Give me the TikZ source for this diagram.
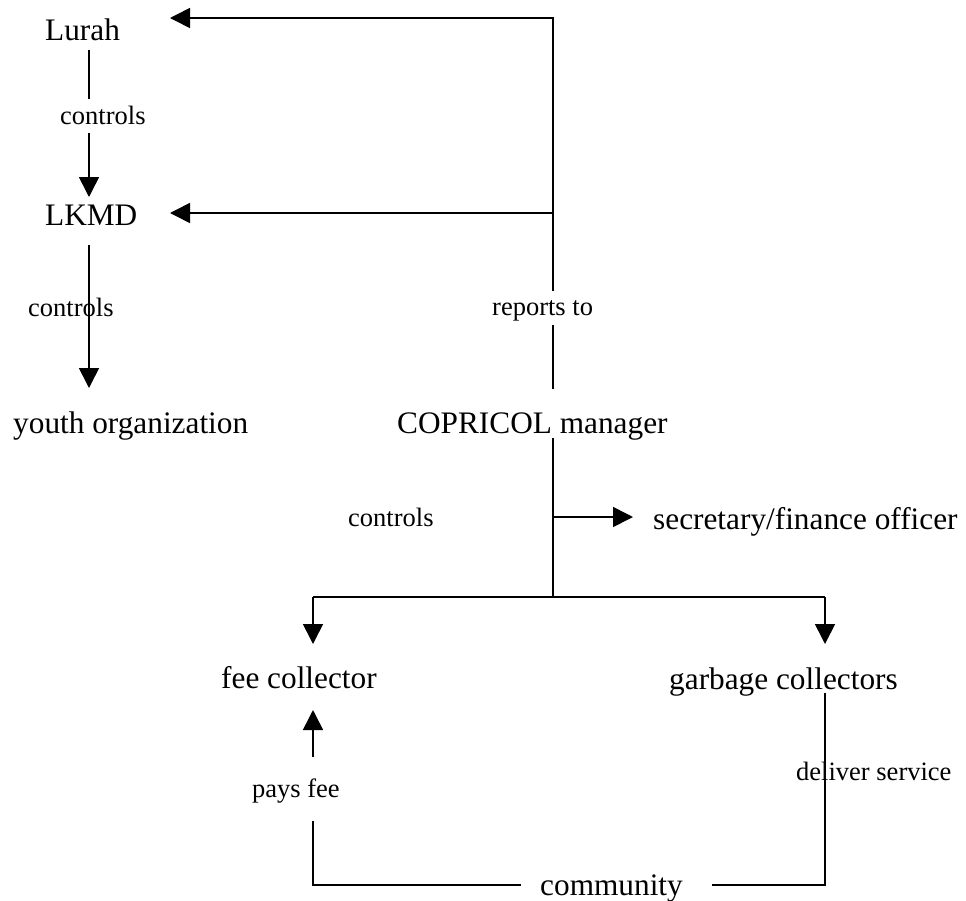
\documentclass[tikz,border=0pt]{standalone}
\usepackage{fontspec}
\setmainfont{Liberation Serif}
\usetikzlibrary{arrows.meta}
\begin{document}
\begin{tikzpicture}[x=1pt,y=-1pt,
  big/.style={anchor=base west,inner sep=0pt,font=\fontsize{31.3}{36}\selectfont},
  lbl/.style={anchor=base west,inner sep=0pt,font=\fontsize{26.5}{30}\selectfont},
  conn/.style={line width=1.6pt},
  arr/.style={conn,-{Triangle[length=20pt,width=20pt]}}]
\fill[white] (0,0) rectangle (966,900);
\useasboundingbox (0,0) rectangle (966,900);

% main nodes
\node[big] (lurah) at (45,40) {Lurah};
\node[big] (lkmd) at (45,225) {LKMD};
\node[big] (youth) at (13,433) {youth organization};
\node[big] (mgr) at (397,433) {COPRICOL manager};
\node[big] (sec) at (653,529) {secretary/finance officer};
\node[big] (fee) at (221,688) {fee collector};
\node[big] (garb) at (669,689) {garbage collectors};
\node[big] (comm) at (540,895) {community};

% labels
\node[lbl] (ctlA) at (60,124) {controls};
\node[lbl] (ctlB) at (28,316) {controls};
\node[lbl] (rep) at (492,315) {reports to};
\node[lbl] (ctlC) at (348,526) {controls};
\node[lbl] (pays) at (252,797) {pays fee};
\node[lbl] (deliv) at (796,780) {deliver service};

% connector points
\coordinate (mgrUp) at (553,389);
\coordinate (repLo) at (553,325);
\coordinate (repHi) at (553,291);
\coordinate (jTop) at (553,18);
\coordinate (jMid) at (553,213);
\coordinate (tipLurah) at (170,18);
\coordinate (tipLkmd) at (170,213);
\coordinate (lurahDown) at (89,50);
\coordinate (ctlAHi) at (89,99);
\coordinate (ctlALo) at (89,133);
\coordinate (tipLkmdIn) at (89,197);
\coordinate (lkmdDown) at (89,245);
\coordinate (tipYouth) at (89,388);
\coordinate (mgrDown) at (553,438);
\coordinate (jSec) at (553,517);
\coordinate (tipSec) at (633,517);
\coordinate (jBranch) at (553,597);
\coordinate (bL) at (313,597);
\coordinate (bR) at (825,597);
\coordinate (tipFee) at (313,644);
\coordinate (tipGarb) at (825,644);
\coordinate (payLo) at (313,821);
\coordinate (payHi) at (313,757);
\coordinate (tipFeeUp) at (313,710);
\coordinate (cornerL) at (313,885);
\coordinate (commL) at (521,885);
\coordinate (commR) at (712,885);
\coordinate (cornerR) at (825,885);
\coordinate (garbDown) at (825,693);

% manager reports to Lurah and LKMD
\draw[conn] (mgrUp) -- (repLo);
\draw[arr] (repHi) -- (jTop) -- (tipLurah);
\draw[arr] (jMid) -- (tipLkmd);

% Lurah controls LKMD
\draw[conn] (lurahDown) -- (ctlAHi);
\draw[arr] (ctlALo) -- (tipLkmdIn);

% LKMD controls youth organization
\draw[arr] (lkmdDown) -- (tipYouth);

% manager controls
\draw[conn] (mgrDown) -- (jBranch);
\draw[arr] (jSec) -- (tipSec);
\draw[conn] (bL) -- (bR);
\draw[arr] (bL) -- (tipFee);
\draw[arr] (bR) -- (tipGarb);

% community pays fee / garbage collectors deliver service
\draw[conn] (payLo) -- (cornerL) -- (commL);
\draw[arr] (payHi) -- (tipFeeUp);
\draw[conn] (commR) -- (cornerR) -- (garbDown);
\end{tikzpicture}
\end{document}
